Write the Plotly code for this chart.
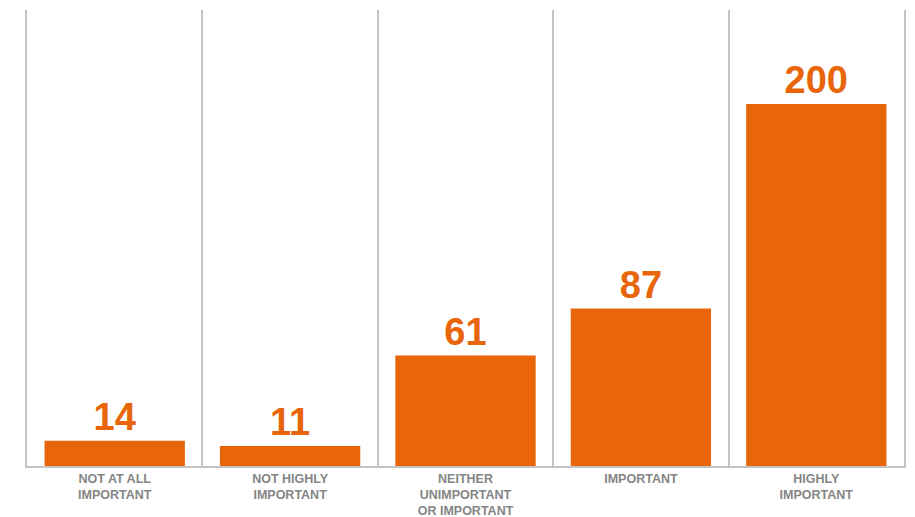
import plotly.graph_objects as go

categories = ["NOT AT ALL<br>IMPORTANT", "NOT HIGHLY<br>IMPORTANT",
              "NEITHER<br>UNIMPORTANT<br>OR IMPORTANT", "IMPORTANT",
              "HIGHLY<br>IMPORTANT"]
values = [14, 11, 61, 87, 200]

ORANGE = "#E8650A"
GRID = "#C4C4C4"

fig = go.Figure(go.Bar(
    x=categories, y=values,
    marker=dict(color=ORANGE, line=dict(width=0)),
    text=[str(v) for v in values],
    textposition="outside",
    cliponaxis=False,
    textfont=dict(family="Liberation Sans", size=38, color=ORANGE, weight="bold"),
))

fig.update_layout(
    width=907, height=509,
    margin=dict(l=19, r=11, t=2, b=51),
    paper_bgcolor="white", plot_bgcolor="white",
    bargap=0.2,
    showlegend=False,
    xaxis=dict(
        type="category",
        tickson="boundaries",
        showgrid=True, gridcolor=GRID, gridwidth=1.5,
        showline=True, linecolor=GRID, linewidth=1.5,
        ticks="", automargin=False,
        tickfont=dict(family="Liberation Sans", size=12.5, color="#858585", weight="bold"),
    ),
    yaxis=dict(
        range=[0, 252],
        showgrid=False, zeroline=False, showticklabels=False,
        showline=True, mirror=True, linecolor=GRID, linewidth=1.5,
        automargin=False,
    ),
)

fig.write_html("out.html")
